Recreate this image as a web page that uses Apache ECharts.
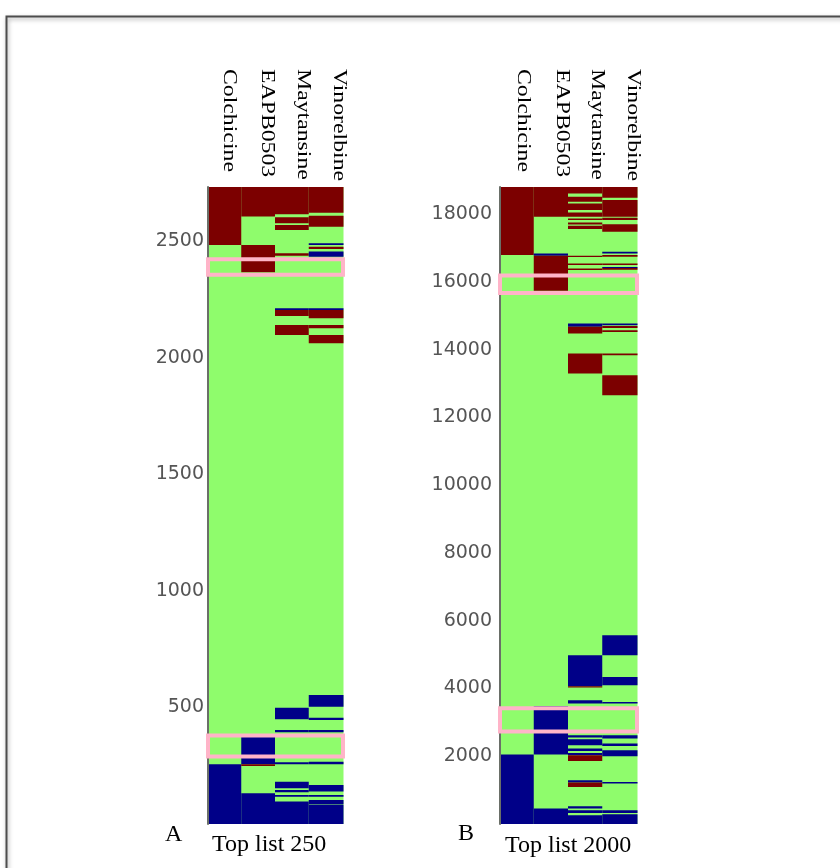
<!DOCTYPE html>
<html>
<head>
<meta charset="utf-8">
<script src="https://cdn.jsdelivr.net/npm/echarts/dist/echarts.min.js"></script>
<style>
html,body{margin:0;padding:0;background:#ffffff;}
#chart{width:840px;height:868px;}
</style>
</head>
<body>
<div id="chart"></div>
<script>
// ---------------- data ----------------
const categories = ['Colchicine', 'EAPB0503', 'Maytansine', 'Vinorelbine'];
const panelLetters = ['A', 'B'];
const panelTitles = ['Top list 250', 'Top list 2000'];

// y extent / tick step of each panel
const yMaxA = 2732, yStepA = 500;
const yMaxB = 18800, yStepB = 2000;

// states: 0 = down (blue), 1 = unchanged (green), 2 = up (red)
// cells: [columnIndex, fromRank, toRank, state]
const cellsA = [
  [0, 0, 2732, 1], [0, 2483, 2732, 2], [0, 0, 256, 0],
  [1, 0, 2732, 1], [1, 2605, 2732, 2], [1, 2366, 2483, 2], [1, 256, 377, 0], [1, 249, 256, 2], [1, 0, 132, 0],
  [2, 0, 2732, 1], [2, 2615, 2732, 2], [2, 2576, 2602, 2], [2, 2548, 2569, 2], [2, 2437, 2448, 2],
  [2, 2205, 2212, 0], [2, 2179, 2205, 2], [2, 2097, 2140, 2],
  [2, 449, 499, 0], [2, 393, 403, 0], [2, 256, 265, 0], [2, 153, 181, 0], [2, 136, 146, 0], [2, 117, 124, 0], [2, 0, 96, 0],
  [3, 0, 2732, 1], [3, 2622, 2732, 2], [3, 2562, 2609, 2], [3, 2483, 2491, 0], [3, 2466, 2476, 2], [3, 2433, 2455, 0],
  [3, 2205, 2212, 0], [3, 2169, 2205, 2], [3, 2126, 2140, 2], [3, 2062, 2097, 2],
  [3, 503, 553, 0], [3, 446, 456, 0], [3, 393, 403, 0], [3, 256, 267, 0], [3, 139, 167, 0], [3, 117, 124, 0], [3, 84, 103, 0], [3, 0, 81, 0]
];
const cellsB = [
  [0, 0, 18800, 1], [0, 16790, 18800, 2], [0, 0, 2050, 0],
  [1, 0, 18800, 1], [1, 17920, 18800, 2], [1, 16769, 16840, 0], [1, 15736, 16769, 2], [1, 2050, 3480, 0], [1, 0, 456, 0],
  [2, 0, 18800, 1], [2, 18611, 18800, 2], [2, 18363, 18510, 2], [2, 18118, 18316, 2], [2, 17920, 18050, 2],
  [2, 17823, 17873, 2], [2, 17696, 17755, 2], [2, 17557, 17655, 2], [2, 16731, 16769, 2], [2, 16495, 16545, 2], [2, 16347, 16397, 2],
  [2, 14673, 14773, 0], [2, 14478, 14673, 2], [2, 13297, 13888, 2],
  [2, 4066, 4982, 0], [2, 4028, 4066, 2], [2, 3556, 3653, 0], [2, 2552, 2620, 0], [2, 2325, 2500, 0], [2, 2156, 2227, 0],
  [2, 2029, 2097, 0], [2, 1861, 2029, 2], [2, 1224, 1292, 0], [2, 1094, 1224, 2], [2, 456, 524, 0], [2, 326, 406, 0], [2, 0, 258, 0],
  [3, 0, 18800, 1], [3, 18481, 18800, 2], [3, 17920, 18413, 2], [3, 17823, 17890, 2], [3, 17478, 17700, 2],
  [3, 16840, 16887, 0], [3, 16740, 16790, 2], [3, 16495, 16545, 2], [3, 16410, 16440, 0], [3, 16360, 16410, 2],
  [3, 14723, 14773, 0], [3, 14640, 14700, 2], [3, 14520, 14570, 2], [3, 13838, 13888, 2], [3, 12657, 13247, 2],
  [3, 4982, 5572, 0], [3, 4096, 4341, 0], [3, 3556, 3603, 0], [3, 2522, 2620, 0], [3, 2304, 2375, 0], [3, 2000, 2177, 0],
  [3, 1194, 1241, 0], [3, 326, 406, 0], [3, 0, 288, 0]
];
// highlighted rank windows: [firstCol, lastCol, fromRank, toRank]
const highlightA = [[0, 3, 2356, 2422], [0, 3, 290, 380]];
const highlightB = [[0, 3, 15668, 16190], [0, 3, 2729, 3417]];

// ---------------- style ----------------
const stateColors = ['#000088', '#8ffc6c', '#7c0000'];
const serif = '"Liberation Serif", "Times New Roman", serif';

function renderCell(params, api) {
  const col = api.value(0);
  const lo = api.coord([col, api.value(1)]);
  const hi = api.coord([col, api.value(2)]);
  const bw = api.size([1, 0])[0];
  return {
    type: 'rect',
    shape: { x: lo[0] - bw / 2 - 0.5, y: hi[1], width: bw + 1, height: Math.max(lo[1] - hi[1], 1) },
    style: { fill: stateColors[api.value(3)] }
  };
}
function renderBox(params, api) {
  const a = api.coord([api.value(0), api.value(3)]);
  const b = api.coord([api.value(1), api.value(2)]);
  const bw = api.size([1, 0])[0];
  return {
    type: 'rect',
    shape: { x: a[0] - bw / 2, y: a[1], width: b[0] - a[0] + bw, height: b[1] - a[1] },
    style: { fill: 'none', stroke: '#ffb4c8', lineWidth: 4 }
  };
}

const grids = [
  { left: 208, width: 135, top: 187, bottom: 44 },
  { left: 500, width: 137, top: 187, bottom: 44 }
];
function xAxisFor(i) {
  return { type: 'category', gridIndex: i, data: categories, axisLine: { show: false }, axisTick: { show: false }, axisLabel: { show: false }, splitLine: { show: false } };
}
function yAxisFor(i, max, step, margin) {
  return {
    type: 'value', gridIndex: i, min: 0, max: max, interval: step, z: 6,
    axisLine: { show: true, lineStyle: { color: '#6a6f68', width: 2 } },
    axisTick: { show: false }, splitLine: { show: false },
    axisLabel: { showMinLabel: false, showMaxLabel: false, margin: margin, color: '#555', fontFamily: 'DejaVu Sans', fontSize: 19,
      formatter: function (v) { return String(v); } }
  };
}

const labelX = [[229, 267, 303, 339], [523, 562, 597, 633]];
const graphics = [
  { type: 'rect', z: -10, shape: { x: 6.5, y: 16.5, width: 900, height: 900 },
    style: { fill: 'none', stroke: '#4d4d4d', lineWidth: 2, shadowBlur: 4, shadowColor: 'rgba(0,0,0,0.35)', shadowOffsetX: 1, shadowOffsetY: 2 } }
];
[0, 1].forEach(function (p) {
  categories.forEach(function (name, i) {
    graphics.push({ type: 'text', x: labelX[p][i], y: 69, rotation: -Math.PI / 2, scaleX: 1.32,
      style: { text: name, font: '18px ' + serif, fill: '#000', align: 'left', verticalAlign: 'middle' } });
  });
});
graphics.push({ type: 'text', x: 165, y: 835, style: { text: panelLetters[0], font: '24px ' + serif, fill: '#000', verticalAlign: 'middle' } });
graphics.push({ type: 'text', x: 212, y: 845, style: { text: panelTitles[0], font: '24px ' + serif, fill: '#000', verticalAlign: 'middle' } });
graphics.push({ type: 'text', x: 458, y: 834, style: { text: panelLetters[1], font: '24px ' + serif, fill: '#000', verticalAlign: 'middle' } });
graphics.push({ type: 'text', x: 505, y: 846, style: { text: panelTitles[1], font: '24px ' + serif, fill: '#000', verticalAlign: 'middle' } });

const chart = echarts.init(document.getElementById('chart'), null, { renderer: 'canvas' });
chart.setOption({
  animation: false,
  backgroundColor: '#ffffff',
  grid: grids,
  xAxis: [xAxisFor(0), xAxisFor(1)],
  yAxis: [yAxisFor(0, yMaxA, yStepA, 4), yAxisFor(1, yMaxB, yStepB, 8)],
  graphic: graphics,
  series: [
    { type: 'custom', xAxisIndex: 0, yAxisIndex: 0, renderItem: renderCell, encode: { x: 0, y: [1, 2] }, data: cellsA, z: 2 },
    { type: 'custom', xAxisIndex: 1, yAxisIndex: 1, renderItem: renderCell, encode: { x: 0, y: [1, 2] }, data: cellsB, z: 2 },
    { type: 'custom', xAxisIndex: 0, yAxisIndex: 0, renderItem: renderBox, encode: { x: [0, 1], y: [2, 3] }, data: highlightA, z: 8, clip: false },
    { type: 'custom', xAxisIndex: 1, yAxisIndex: 1, renderItem: renderBox, encode: { x: [0, 1], y: [2, 3] }, data: highlightB, z: 8, clip: false }
  ]
});
</script>
</body>
</html>
